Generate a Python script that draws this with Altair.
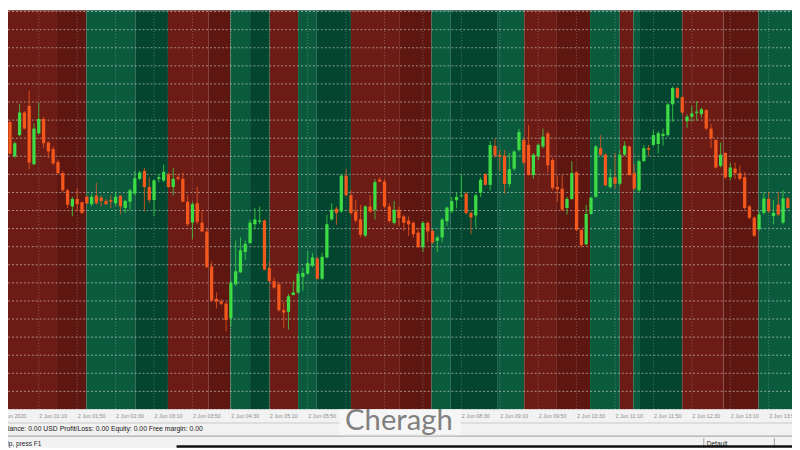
import altair as alt
import pandas as pd

# ---------------- data (price in grid units: one dotted grid line = 1 unit) ----------------
open_ = [15.89, 14.00, 15.17, 16.42, 16.78, 13.56, 15.26, 16.06, 14.76, 14.40,
         13.68, 13.07, 12.12, 11.23, 11.64, 11.46, 11.76, 11.35, 11.82, 11.71,
         11.53, 11.58, 11.40, 11.82, 11.14, 11.49, 11.94, 12.75, 13.19, 12.30,
         11.58, 12.75, 12.66, 13.01, 12.30, 12.84, 12.75, 11.49, 10.33, 11.40,
         10.33, 9.84, 7.91, 6.12, 5.97, 5.85, 5.04, 6.92, 7.58, 8.71,
         9.20, 10.24, 10.38, 10.45, 7.82, 7.10, 6.92, 5.49, 5.40, 6.33,
         6.47, 7.33, 7.51, 7.94, 8.35, 7.23, 8.41, 10.51, 11.10, 10.95,
         12.93, 11.85, 10.95, 10.51, 9.61, 11.22, 11.04, 12.71, 12.60, 11.22,
         10.32, 11.04, 10.68, 10.44, 10.32, 9.78, 8.97, 10.32, 9.87, 9.33,
         9.51, 10.41, 10.95, 11.57, 11.79, 11.93, 10.86, 10.73, 11.99, 13.01,
         12.42, 14.57, 14.08, 14.03, 12.47, 13.31, 14.35, 14.90, 14.63, 12.96,
         14.00, 14.54, 15.26, 13.79, 12.30, 12.21, 11.14, 11.64, 13.11, 9.92,
         9.13, 10.81, 11.76, 14.45, 14.09, 12.30, 12.84, 12.48, 14.09, 14.54,
         13.07, 12.12, 13.73, 14.45, 14.63, 14.68, 15.12, 15.17, 16.87, 17.77,
         17.27, 15.94, 16.19, 16.40, 16.33, 16.55, 15.53, 14.90, 13.47, 14.18,
         12.84, 13.32, 13.07, 12.84, 11.23, 10.60, 9.97, 10.87, 11.64, 10.69,
         11.32, 10.33, 11.67]
high = [15.98, 14.81, 16.91, 16.51, 17.62, 15.80, 16.96, 16.19, 14.81, 14.54,
        13.82, 13.20, 12.21, 11.76, 12.21, 11.49, 11.82, 11.94, 12.53, 11.85,
        11.64, 11.85, 12.03, 11.85, 11.58, 12.21, 13.20, 13.19, 13.37, 12.84,
        12.75, 13.01, 13.55, 13.10, 13.37, 13.01, 13.10, 11.85, 11.49, 12.30,
        11.04, 9.97, 8.18, 6.47, 6.12, 5.94, 7.10, 9.34, 9.52, 9.34,
        10.51, 11.13, 11.22, 10.51, 8.18, 7.28, 7.01, 5.94, 6.40, 7.10,
        7.64, 7.82, 8.77, 8.66, 8.44, 8.66, 10.77, 11.40, 11.22, 13.01,
        13.28, 12.12, 11.58, 11.31, 11.31, 11.85, 12.75, 12.84, 12.75, 11.40,
        11.52, 11.22, 10.77, 10.68, 10.41, 10.05, 10.41, 10.41, 9.96, 9.60,
        10.59, 11.22, 11.75, 11.99, 13.01, 12.02, 10.95, 11.93, 12.83, 13.06,
        14.85, 14.98, 14.35, 14.35, 14.17, 14.35, 15.52, 14.99, 15.71, 14.18,
        14.72, 15.53, 15.35, 13.91, 12.93, 12.96, 11.76, 13.73, 13.14, 9.97,
        11.32, 11.76, 14.63, 15.17, 14.15, 13.29, 14.18, 14.36, 14.81, 14.58,
        13.56, 13.82, 14.63, 14.63, 15.44, 15.40, 15.53, 16.96, 17.86, 17.86,
        17.32, 16.33, 16.78, 17.05, 16.69, 16.60, 15.79, 14.93, 14.76, 14.22,
        13.64, 13.64, 13.47, 13.11, 11.32, 10.69, 10.96, 12.03, 12.03, 11.59,
        12.03, 12.12, 11.76]
low = [14.09, 13.91, 15.11, 15.48, 13.29, 13.50, 15.22, 14.45, 13.91, 13.50,
       13.02, 12.03, 11.14, 10.69, 10.96, 10.81, 11.35, 11.23, 11.32, 11.23,
       11.32, 11.14, 11.23, 10.78, 10.87, 11.05, 11.85, 12.66, 10.95, 11.40,
       10.68, 12.57, 12.57, 12.24, 11.85, 12.66, 11.46, 10.15, 9.43, 10.24,
       9.79, 7.82, 5.94, 5.58, 5.76, 4.32, 4.59, 6.83, 7.55, 8.27,
       9.16, 9.97, 10.24, 7.69, 7.05, 6.67, 5.40, 4.50, 4.41, 6.30,
       6.40, 6.56, 7.46, 7.87, 7.19, 7.15, 8.35, 10.45, 10.20, 10.86,
       11.76, 10.77, 10.33, 9.52, 9.52, 10.86, 10.51, 12.57, 11.13, 10.33,
       10.23, 10.14, 9.87, 9.60, 9.51, 8.94, 8.71, 9.24, 9.15, 8.71,
       9.24, 10.14, 10.86, 11.12, 11.75, 10.77, 9.69, 10.05, 11.75, 12.38,
       12.11, 13.90, 13.19, 11.93, 12.29, 13.19, 14.26, 13.56, 12.93, 12.75,
       13.79, 14.45, 13.11, 12.12, 11.49, 10.96, 10.78, 11.58, 9.85, 8.99,
       9.08, 10.78, 11.71, 14.00, 12.35, 12.21, 12.21, 12.39, 14.00, 12.93,
       12.12, 12.03, 13.70, 14.00, 14.54, 14.15, 14.60, 15.08, 15.89, 17.19,
       16.33, 15.58, 15.89, 15.97, 16.15, 15.44, 14.45, 13.32, 13.38, 12.75,
       12.66, 12.75, 12.66, 11.05, 10.51, 9.52, 9.88, 10.78, 10.87, 10.24,
       10.69, 10.24, 11.10]
close = [14.15, 14.72, 16.42, 15.53, 13.65, 15.53, 16.06, 14.72, 14.27, 13.61,
         13.07, 12.12, 11.32, 11.64, 11.35, 10.87, 11.40, 11.76, 11.40, 11.53,
         11.35, 11.49, 11.76, 11.23, 11.53, 12.12, 12.79, 13.10, 12.30, 11.58,
         12.66, 12.84, 13.14, 12.30, 12.75, 12.75, 11.49, 10.24, 11.35, 10.38,
         9.84, 7.87, 6.03, 5.97, 5.85, 4.95, 7.01, 7.64, 8.80, 9.16,
         10.33, 10.51, 10.45, 7.73, 7.10, 6.74, 5.49, 5.36, 6.26, 6.47,
         7.51, 7.55, 8.09, 8.41, 7.23, 8.44, 10.24, 11.04, 10.86, 12.93,
         11.85, 10.86, 10.45, 9.66, 11.22, 10.95, 12.57, 12.60, 11.22, 10.42,
         11.04, 10.59, 10.32, 10.23, 9.69, 8.97, 10.32, 9.84, 9.24, 9.51,
         10.50, 11.16, 11.52, 11.75, 11.84, 10.86, 10.62, 11.84, 12.70, 12.42,
         14.62, 14.03, 13.99, 12.47, 13.28, 14.26, 15.34, 13.65, 12.96, 14.09,
         14.63, 15.08, 13.50, 12.25, 12.18, 11.05, 11.64, 13.07, 9.92, 9.08,
         10.81, 11.71, 14.54, 14.09, 12.39, 12.84, 12.48, 14.09, 14.58, 12.96,
         12.21, 13.73, 14.45, 14.36, 15.17, 15.28, 15.24, 16.87, 17.77, 17.23,
         16.42, 16.19, 16.37, 16.47, 16.60, 15.53, 14.99, 13.38, 14.09, 12.84,
         13.38, 13.07, 12.75, 11.14, 10.60, 9.61, 10.78, 11.67, 10.96, 10.87,
         10.78, 11.67, 11.14]

grid_levels = list(range(0, 23))

# vertical grid lines every 8 bars (40 minutes)
vgrid_idx = [7, 15, 23, 31, 39, 47, 55, 63, 71, 79, 87, 95,
             103, 111, 119, 127, 135, 143, 151, 159]
# time labels visible in the screenshot (those under the logo are hidden there)
time_label_idx = [-1.2, 7, 15, 23, 31, 39, 47, 55, 63, 95,
                  103, 111, 119, 127, 135, 143, 151, 159]
time_labels = ["2 Jun 2020", "2 Jun 01:10", "2 Jun 01:50", "2 Jun 02:30", "2 Jun 03:10",
               "2 Jun 03:50", "2 Jun 04:30", "2 Jun 05:10", "2 Jun 05:50",
               "2 Jun 08:30", "2 Jun 09:10", "2 Jun 09:50",
               "2 Jun 10:30", "2 Jun 11:10", "2 Jun 11:50", "2 Jun 12:30", "2 Jun 13:10",
               "2 Jun 13:50"]

band_start = [0.59, 10.8, 16.9, 27.1, 33.9, 42.4, 46.9, 51.0, 55.1, 61.0, 64.9, 72.0, 82.2,
              88.8, 92.8, 102.6, 108.1, 114.9, 121.8, 128.0, 130.8, 132.2, 141.0, 149.6, 156.9]
band_end = [10.8, 16.9, 27.1, 33.9, 42.4, 46.9, 51.0, 55.1, 61.0, 64.9, 72.0, 82.2, 88.8,
            92.8, 102.6, 108.1, 114.9, 121.8, 128.0, 130.8, 132.2, 141.0, 149.6, 156.9, 163.9]
band_shade = ["bear1", "bear2", "bull1", "bull2", "bear1", "bear2", "bull1", "bull2", "bear1",
              "bull1", "bull2", "bear1", "bear2", "bull1", "bull2", "bull1", "bear1", "bear2",
              "bull1", "bear1", "bull1", "bull2", "bear1", "bear2", "bull1"]

# ---------------- layout ----------------
W, H = 792, 442
X0, X1 = 0.5918, 163.857
G0, G1 = -2.1183, 22.0753


def px(v):
    return v * W / 800.0


def py(v):
    return v * H / 450.0


PLOT_BOTTOM = py(410.6)

df = pd.DataFrame({"idx": list(range(1, len(open_) + 1)), "o": open_, "h": high,
                   "l": low, "c": close})
df["dir"] = ["up" if c >= o else "down" for o, c in zip(open_, close)]
bands = pd.DataFrame({"start": band_start, "end": band_end, "shade": band_shade})
grid = pd.DataFrame({"g": grid_levels})
labels = pd.DataFrame({"idx": time_label_idx, "label": time_labels})
vgrid = pd.DataFrame({"idx": vgrid_idx})
one = pd.DataFrame({"a": [0]})

xs = alt.Scale(domain=[X0, X1], nice=False, zero=False)
ys = alt.Scale(domain=[G0, G1], nice=False, zero=False)
cs = alt.Scale(domain=["bear1", "bear2", "bull1", "bull2", "up", "down"],
               range=["#6c1b15", "#5e1611", "#0b5a3e", "#03452e", "#3ddc45", "#f4581c"])

band_layer = alt.Chart(bands).mark_rect().encode(
    x=alt.X("start:Q", scale=xs, axis=None), x2="end:Q",
    y=alt.value(0), y2=alt.value(PLOT_BOTTOM),
    color=alt.Color("shade:N", scale=cs, legend=None))

hgrid = alt.Chart(grid).mark_rule(strokeDash=[2, 2], color="white", opacity=0.5,
                                  strokeWidth=1).encode(
    y=alt.Y("g:Q", scale=ys, axis=None), x=alt.value(0), x2=alt.value(W))

vgrid_layer = alt.Chart(vgrid).mark_rule(strokeDash=[1, 2], color="white", opacity=0.28,
                                         strokeWidth=1).encode(
    x=alt.X("idx:Q", scale=xs, axis=None), y=alt.value(0), y2=alt.value(PLOT_BOTTOM))

wick = alt.Chart(df).mark_rule(strokeWidth=1.1, opacity=0.7).encode(
    x=alt.X("idx:Q", scale=xs, axis=None),
    y=alt.Y("l:Q", scale=ys, axis=None), y2="h:Q",
    color=alt.Color("dir:N", scale=cs, legend=None))

body = alt.Chart(df).mark_rule(strokeWidth=3.3, strokeCap="butt").encode(
    x=alt.X("idx:Q", scale=xs, axis=None),
    y=alt.Y("o:Q", scale=ys, axis=None), y2="c:Q",
    color=alt.Color("dir:N", scale=cs, legend=None))

base_one = alt.Chart(one)
bottom_bg = base_one.mark_rect(color="#f2f2f2").encode(
    x=alt.value(0), x2=alt.value(W), y=alt.value(PLOT_BOTTOM), y2=alt.value(H))
sep1 = base_one.mark_rule(color="#c8c8c8", strokeWidth=1).encode(
    x=alt.value(0), x2=alt.value(W), y=alt.value(py(424.5)))
sep2 = base_one.mark_rule(color="#9a9a9a", strokeWidth=1).encode(
    x=alt.value(0), x2=alt.value(W), y=alt.value(py(438)))

tlabels = alt.Chart(labels).mark_text(align="left", baseline="middle", dx=0.5, fontSize=5.4,
                                      font="Liberation Sans", color="#8c8c8c").encode(
    x=alt.X("idx:Q", scale=xs, axis=None), y=alt.value(py(417.5)), text="label:N")

status = base_one.mark_text(
    text="Balance: 0.00 USD  Profit/Loss: 0.00  Equity: 0.00  Free margin: 0.00",
    align="left", baseline="middle", fontSize=6.9, font="Liberation Sans",
    color="#151515").encode(x=alt.value(px(-8.5)), y=alt.value(py(431)))

help_txt = base_one.mark_text(text="For Help, press F1", align="left", baseline="middle",
                              fontSize=6.6, font="Liberation Sans", color="#1e1e1e").encode(
    x=alt.value(px(-21)), y=alt.value(py(446.5)))
default_txt = base_one.mark_text(text="Default", align="left", baseline="middle", fontSize=6.6,
                                 font="Liberation Sans", color="#1e1e1e").encode(
    x=alt.value(px(713)), y=alt.value(py(446.5)))
vsep1 = base_one.mark_rule(color="#a0a0a0").encode(
    x=alt.value(px(710)), y=alt.value(py(440)), y2=alt.value(H))
vsep2 = base_one.mark_rule(color="#a0a0a0").encode(
    x=alt.value(px(782)), y=alt.value(py(440)), y2=alt.value(H))
black_bar = base_one.mark_rect(color="#111111").encode(
    x=alt.value(px(172)), x2=alt.value(W), y=alt.value(py(447.5)), y2=alt.value(H))

# watermark logo with its light backdrop
wm_backdrop = base_one.mark_rect(color="#f6f6f6").encode(
    x=alt.value(px(338)), x2=alt.value(px(462)), y=alt.value(PLOT_BOTTOM),
    y2=alt.value(py(437)))
wm_swoosh = base_one.mark_rule(color="#d6d6d6", strokeWidth=1.5).encode(
    x=alt.value(px(342)), x2=alt.value(px(458)), y=alt.value(py(437.5)))
watermark = base_one.mark_text(text="Cheragh", align="left", baseline="alphabetic",
                               fontSize=29.5, font="Lato", color="#808080").encode(
    x=alt.value(px(344)), y=alt.value(py(432)))

chart = alt.layer(
    band_layer, vgrid_layer, hgrid, wick, body,
    bottom_bg, sep1, sep2, tlabels, status, help_txt, default_txt, vsep1, vsep2,
    black_bar, wm_backdrop, wm_swoosh, watermark
).properties(
    width=W, height=H, padding=0,
    autosize=alt.AutoSizeParams(type="none"), background="white"
).configure_view(stroke=None)

chart.save("out.html", embed_options={"renderer": "svg", "actions": False})
